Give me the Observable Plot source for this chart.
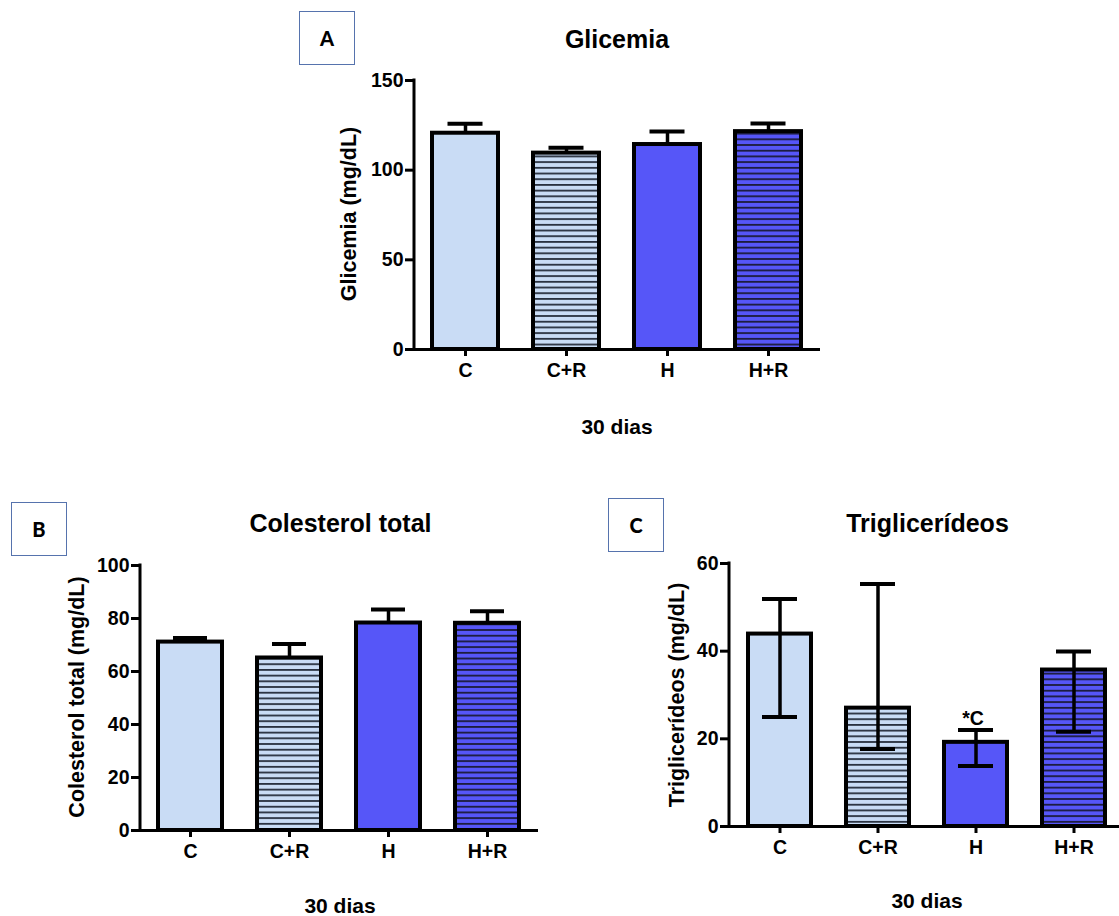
<!DOCTYPE html>
<html><head><meta charset="utf-8">
<script src="https://cdn.jsdelivr.net/npm/d3@7"></script>
<script src="https://cdn.jsdelivr.net/npm/@observablehq/plot@0.6"></script>
<style>
body{margin:0;background:#fff;}
#page{position:relative;width:1119px;height:916px;overflow:hidden;font-family:"Liberation Sans",Arial,sans-serif;font-weight:bold;color:#000;background:#fff;}
.t{position:absolute;white-space:nowrap;line-height:1;transform:translateX(-50%);}
.yl{position:absolute;white-space:nowrap;line-height:1;transform:translate(-50%,-50%) rotate(-90deg);font-size:21.5px;}
.box{position:absolute;box-sizing:border-box;border:1.5px solid #5673ad;display:flex;align-items:center;justify-content:center;font-family:Lato,"Open Sans",sans-serif;font-size:20px;font-weight:900;}
.plot{position:absolute;}
.plot svg text{font-size:19.5px;}
</style></head>
<body><div id="page">
<svg width="0" height="0" style="position:absolute">
<defs>
<pattern id="hatchLight" patternUnits="userSpaceOnUse" width="8" height="5.7"><rect width="8" height="5.7" fill="#c9dcf5"/><rect y="0" width="8" height="1.8" fill="#29313f"/></pattern>
<pattern id="hatchDark" patternUnits="userSpaceOnUse" width="8" height="5.7"><rect width="8" height="5.7" fill="#5656f8"/><rect y="0" width="8" height="1.8" fill="#1c1c3c"/></pattern>
</defs></svg>

<div class="box" style="left:299px;top:11px;width:56px;height:54px;">A</div>
<div class="box" style="left:11px;top:502px;width:56px;height:54px;">B</div>
<div class="box" style="left:608px;top:498px;width:56px;height:54px;">C</div>

<div class="t" style="left:617px;top:27px;font-size:25px;">Glicemia</div>
<div class="t" style="left:340.5px;top:511px;font-size:25px;">Colesterol total</div>
<div class="t" style="left:927.5px;top:511px;font-size:25px;">Triglicerídeos</div>

<div class="yl" style="left:350px;top:214px;">Glicemia (mg/dL)</div>
<div class="yl" style="left:78px;top:697px;">Colesterol total (mg/dL)</div>
<div class="yl" style="left:678px;top:695px;">Triglicerídeos (mg/dL)</div>

<div class="t" style="left:617px;top:415.5px;font-size:21px;">30 dias</div>
<div class="t" style="left:340px;top:895px;font-size:21px;">30 dias</div>
<div class="t" style="left:927px;top:890px;font-size:21px;">30 dias</div>

<div id="pA" class="plot" style="left:300px;top:70px;"></div>
<div id="pB" class="plot" style="left:30px;top:555px;"></div>
<div id="pC" class="plot" style="left:630px;top:553px;"></div>
</div>
<script>
// ---- data ----
const groups = ["C", "C+R", "H", "H+R"];
const glicemiaMean = [120.6, 109.5, 114.3, 121.5];
const glicemiaHigh = [125.9, 112.5, 121.6, 126.0];
const glicemiaTicks = [0, 50, 100, 150];
const colesterolMean = [71.1, 65.1, 78.3, 78.2];
const colesterolHigh = [72.6, 70.4, 83.4, 82.7];
const colesterolTicks = [0, 20, 40, 60, 80, 100];
const trigMean = [43.9, 27.0, 19.2, 35.7];
const trigLow = [25.0, 17.7, 13.8, 21.6];
const trigHigh = [51.9, 55.3, 22.0, 39.9];
const trigTicks = [0, 20, 40, 60];
const trigSignifGroup = ["H"];
const trigSignifLabel = ["*C"];

// ---- styles ----
const groupFill = {"C": "#c9dcf5", "C+R": "url(#hatchLight)", "H": "#5656f8", "H+R": "url(#hatchDark)"};
const FONT = '"Liberation Sans", Arial, sans-serif';

function yAxisLine(index, scales, values, dimensions) {
  const line = d3.create("svg:line")
    .attr("x1", dimensions.marginLeft).attr("x2", dimensions.marginLeft)
    .attr("y1", dimensions.height - dimensions.marginBottom + 1.5)
    .attr("y2", dimensions.marginTop - 1.5)
    .attr("stroke", "black").attr("stroke-width", 3);
  return line.node();
}

function panel(el, rows, opts) {
  const marks = [
    Plot.ruleY([0], {stroke: "black", strokeWidth: 3}),
    yAxisLine,
    Plot.axisY({ticks: opts.ticks, tickSize: 9, tickPadding: 2, strokeWidth: 3, fontSize: 19.5, fontWeight: "bold", label: null}),
    Plot.axisX({tickSize: 7, tickPadding: 7, strokeWidth: 3, fontSize: 19.5, fontWeight: "bold", label: null})
  ];
  if (!opts.twoSided) {
    marks.push(Plot.ruleX(rows, {x: "group", y1: "mean", y2: "high", stroke: "black", strokeWidth: 3.5}));
    marks.push(Plot.tickY(rows, {x: "group", y: "high", stroke: "black", strokeWidth: 4, inset: opts.capInset}));
  }
  marks.push(Plot.barY(rows, {x: "group", y: "mean", fill: d => groupFill[d.group], stroke: "black", strokeWidth: 4}));
  if (opts.twoSided) {
    marks.push(Plot.ruleX(rows, {x: "group", y1: "low", y2: "high", stroke: "black", strokeWidth: 3.5}));
    marks.push(Plot.tickY(rows, {x: "group", y: "high", stroke: "black", strokeWidth: 4, inset: opts.capInset}));
    marks.push(Plot.tickY(rows, {x: "group", y: "low", stroke: "black", strokeWidth: 4, inset: opts.capInset}));
  }
  if (opts.annotations) {
    marks.push(Plot.text(opts.annotations, {x: "group", y: "y", text: "label", lineAnchor: "bottom", dy: -5, dx: -3, fontSize: 19.5, fontWeight: "bold", fill: "black"}));
  }
  const chart = Plot.plot({
    width: opts.width, height: opts.height,
    marginLeft: opts.marginLeft, marginRight: 0, marginTop: opts.marginTop, marginBottom: opts.marginBottom,
    style: {fontFamily: FONT, fontWeight: "bold", fontSize: "19.5px", background: "transparent", overflow: "visible"},
    x: {type: "band", domain: groups, range: opts.xRange, paddingInner: opts.paddingInner, paddingOuter: 0, align: 0, label: null},
    y: {domain: [0, opts.ticks[opts.ticks.length - 1]], label: null},
    color: {type: "identity"},
    marks
  });
  document.getElementById(el).appendChild(chart);
}

const rowsA = groups.map((g, i) => ({group: g, mean: glicemiaMean[i], high: glicemiaHigh[i]}));
const rowsB = groups.map((g, i) => ({group: g, mean: colesterolMean[i], high: colesterolHigh[i]}));
const rowsC = groups.map((g, i) => ({group: g, mean: trigMean[i], low: trigLow[i], high: trigHigh[i]}));
const annC = trigSignifGroup.map((g, i) => ({group: g, label: trigSignifLabel[i], y: trigHigh[groups.indexOf(g)]}));

panel("pA", rowsA, {width: 520, height: 319, marginLeft: 114, marginTop: 10, marginBottom: 40,
  xRange: [132.25, 502.2], paddingInner: 0.348, ticks: glicemiaTicks, capInset: 15.5});
panel("pB", rowsB, {width: 508, height: 315, marginLeft: 110, marginTop: 10, marginBottom: 40,
  xRange: [128.45, 491.9], paddingInner: 0.355, ticks: colesterolTicks, capInset: 15});
panel("pC", rowsC, {width: 489, height: 313, marginLeft: 99, marginTop: 10, marginBottom: 40,
  xRange: [117.75, 476.55], paddingInner: 0.36, ticks: trigTicks, capInset: 14, twoSided: true, annotations: annC});
</script>
</body></html>
